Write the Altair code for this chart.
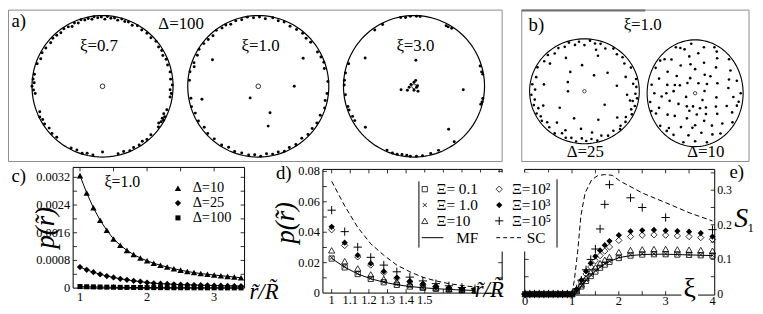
import altair as alt
import pandas as pd

SERIF = "'Liberation Serif', 'DejaVu Serif', 'Times New Roman', serif"

# ---------------- values ----------------
# a) Delta = 100 : particle positions as [angle in degrees, r/R]
a_xi07 = [[45,.97],[50,.98],[55,.97],[60,.99],[64,.96],[68,.98],[71,.97],[74,.99],[77,.96],[80,.98],[83,.97],[86,.99],[88,.95],[91,.98],[94,.97],[97,.99],[99,.96],[102,.98],[105,.97],[108,.99],[111,.96],[114,.98],[117,.95],[120,.97],[124,.98],[128,.96],[132,.97],[136,.98],[140,.96],
          [18,.97],[23,.98],[27,.96],[31,.98],[35,.97],[40,.99],
          [12,.98],[6,.97],[1,.99],[-3,.96],[-6,.98],[-9,.97],
          [-20,.97],[-24,.95],[-26,.98],[-28,.96],[-29,.99],[-31,.97],[-33,.95],[-36,.98],
          [-45,.97],[-50,.98],[-54,.96],[-58,.98],[-63,.97],[-67,.99],[-72,.97],[-77,.98],
          [-90,.93],[-98,.98],[-103,.97],[-107,.99],[-112,.97],[-117,.98],
          [-132,.97],[-137,.98],[-142,.96],[-147,.98],[-151,.97],[-154,.99],[-158,.96],
          [170,.98],[174,.99],[177,.97],[180,1.0],[183,.98],[186,.96],
          [146,.97],[151,.98],[156,.96],[161,.98]]
a_xi10 = [[40,.97],[45,.96],[50,.98],[56,.97],[62,.96],[68,.98],[73,.97],[78,.99],[84,.96],[89,.98],[94,.97],[99,.99],[104,.97],[109,.98],[114,.96],[118,.98],[122,.97],[127,.99],[132,.96],[137,.97],[142,.98],
          [30,.97],[25,.98],[20,.99],[15,.97],
          [4,.99],[-6,.98],[-12,.97],[-18,.99],
          [-25,.97],[-32,.98],[-38,.97],[-44,.98],[-50,.96],
          [-57,.98],[-63,.97],[-68,.99],[-73,.97],[-78,.98],[-83,.96],[-88,.99],[-93,.97],[-98,.98],[-104,.97],[-110,.98],[-116,.96],[-122,.98],
          [-130,.97],[-137,.98],[-143,.96],[-150,.98],[-157,.97],[-163,.99],
          [-170,.97],[175,.98],[168,.99],[160,.97],[163,.95],[153,.97],[148,.99],
          [150,.75],[32,.75],[0,.51],[-125,.2],[-66,.41],[-76,.58],[-167,.82]]
a_xi30 = [[101,.99],[93,.99],[85,.99],[88,.99],[97,.98],[117,.98],[125,.97],[62,.97],[57,.98],[60,.97],
          [161,.98],[169,.99],[179,.99],[175,.99],[-173,.98],[-163,.98],[-160,.98],[-154,.97],[-150,.97],
          [17,.98],[10,.99],[12,.98],[-13,.99],[-15,.98],[-10,.99],
          [-113,.98],[-108,.99],[-104,.99],[-100,.98],[-96,.98],[-93,.99],[-88,.99],[-83,.99],[-76,.98],[-69,.97],[-54,.97],
          [86,.37],[150,.8],[-4,.7],[-51,.78],[-140,.9],
          [-165,.19],[-170,.07],[150,.05],[90,.056],[-20,.04],[-90,.056],[-51,.09],[74,.087],[-149,.11],[10,.05]]
# b) xi = 1.0
b_d25 = [[5,.95],[9,.9],[14,.97],[-3,.93],[-8,.97],[-12,.9],[-17,.96],[-22,.92],[-27,.97],[-33,.9],[-38,.95],[-45,.93],
         [28,.96],[36,.9],[43,.95],[50,.92],[57,.97],[65,.9],[72,.95],[78,.93],[84,.97],[90,.88],[96,.95],[101,.9],[107,.97],[113,.92],[120,.95],[127,.9],[134,.96],[142,.93],
         [152,.97],[163,.92],[172,.96],[178,.9],[184,.97],[190,.92],[196,.96],[201,.9],[206,.97],[211,.93],[216,.96],[221,.9],[227,.94],
         [236,.97],[243,.9],[249,.95],[255,.92],[261,.97],[267,.9],[272,.95],[278,.92],[284,.97],[290,.9],[297,.95],[305,.92],[312,.97],
         [95,.5],[125,.45],[150,.35],[180,.3],[60,.35],[215,.55],[250,.55],[265,.72],[295,.6],[325,.45],[10,.6],[40,.55],[70,.72],[118,.72],
         [230,.78],[245,.82],[280,.8],[320,.78],[20,.8],[170,.75],[200,.8],[140,.82],[75,.82],[348,.85],[355,.78]]
b_d10 = [[0,.95],[8,.7],[15,.9],[22,.5],[30,.85],[35,.3],[42,.95],[48,.65],[55,.8],[60,.4],[65,.95],[72,.6],[78,.88],[85,.75],[90,.45],[95,.93],[100,.7],[105,.85],[110,.3],[115,.95],[120,.6],[128,.8],[135,.9],[140,.5],[145,.7],[150,.95],[155,.35],[160,.8],[165,.6],[170,.92],[175,.45],[180,.85],[185,.7],[190,.95],[195,.55],[200,.8],[205,.9],[210,.4],[215,.7],[220,.95],[225,.6],[230,.85],[235,.3],[240,.9],[245,.7],[250,.5],[255,.95],[260,.8],[265,.65],[270,.9],[275,.4],[280,.75],[285,.95],[290,.55],[295,.85],[300,.7],[305,.92],[310,.35],[315,.8],[320,.6],[325,.95],[330,.5],[335,.85],[340,.7],[345,.9],[350,.45],[355,.8],
         [12,.2],[70,.2],[130,.25],[200,.2],[260,.25],[320,.2],[100,.55],[250,.35],[180,.6],[45,.45],[290,.3],[160,.45],[20,.75],[110,.9],[230,.92],[350,.92],[60,.9],[140,.95],[200,.97],[270,.6],[300,.45]]

# c) xi = 1.0, p(r) against r/R
c_r = [1.0, 1.1, 1.2, 1.3, 1.4, 1.5, 1.6, 1.7, 1.8, 1.9, 2.0, 2.1, 2.2, 2.3, 2.4, 2.5, 2.6, 2.7, 2.8, 2.9, 3.0, 3.1, 3.2, 3.3, 3.4]
c_d10 = [0.00325, 0.00275, 0.00232, 0.00196, 0.00167, 0.00142, 0.00124, 0.00109, 0.00097, 0.00087, 0.00079, 0.00072, 0.00066, 0.00061, 0.00056, 0.00052, 0.00048, 0.00045, 0.00042, 0.00040, 0.00038, 0.00036, 0.00034, 0.00032, 0.00030]
c_d25 = [0.00061, 0.00053, 0.00046, 0.00040, 0.00035, 0.00031, 0.00027, 0.00024, 0.00021, 0.00019, 0.00016, 0.00014, 0.00013, 0.00012, 0.00011, 0.00010, 0.000095, 0.00009, 0.000085, 0.00008, 0.000075, 0.00007, 0.000065, 0.00006, 0.000058]
c_d100 = [0.000045, 0.00004, 0.000036, 0.000032, 0.000029, 0.000026, 0.000023, 0.000021, 0.000019, 0.000017, 0.000016, 0.000015, 0.000014, 0.000013, 0.000012, 0.000011, 0.000011, 0.00001, 0.00001, 0.000009, 0.000009, 0.000008, 0.000008, 0.000008, 0.000007]
c_yt = [0, 0.0008, 0.0016, 0.0024, 0.0032]
c_yl = ["0", "0.0008", "0.0016", "0.0024", "0.0032"]
c_xt = [1, 2, 3]
c_xl = ["1", "2", "3"]

# d) p(r) against r/R for several Xi
d_r = [1.0, 1.07, 1.14, 1.21, 1.28, 1.35, 1.42, 1.49, 1.56, 1.63, 1.70, 1.77, 1.84]
d_xi01 = [0.0227, 0.0169, 0.0125, 0.0093, 0.0071, 0.0054, 0.0043, 0.0034, 0.0028, 0.0023, 0.0019, 0.0017, 0.0015]
d_xi1 = [0.0232, 0.0174, 0.0128, 0.0096, 0.0073, 0.0056, 0.0044, 0.0035, 0.0029, 0.0024, 0.0020, 0.0017, 0.0015]
d_xi10 = [0.0281, 0.0210, 0.0162, 0.0123, 0.0093, 0.0075, 0.0058, 0.0043, 0.0036, 0.0028, 0.0023, 0.0019, 0.0016]
d_xi1e2 = [0.0416, 0.0313, 0.0238, 0.0184, 0.0135, 0.0097, 0.0075, 0.0058, 0.0043, 0.0032, 0.0026, 0.0021, 0.0017]
d_xi1e3 = [0.0436, 0.0331, 0.0249, 0.0195, 0.0142, 0.0102, 0.0078, 0.0060, 0.0045, 0.0034, 0.0027, 0.0022, 0.0018]
d_xi1e5 = [0.0545, 0.0404, 0.0302, 0.0235, 0.0184, 0.0140, 0.0105, 0.0080, 0.0062, 0.0048, 0.0037, 0.0029, 0.0023]
d_mf_r = [1.0, 1.07, 1.14, 1.21, 1.28, 1.35, 1.42, 1.49, 1.56, 1.63, 1.70, 1.77, 1.84, 1.91]
d_mf = [0.0228, 0.0170, 0.0126, 0.0094, 0.0072, 0.0055, 0.0043, 0.0035, 0.0029, 0.0024, 0.0020, 0.0017, 0.0015, 0.0013]
d_sc_r = [1.0, 1.07, 1.14, 1.21, 1.28, 1.35, 1.42, 1.49, 1.56, 1.63, 1.70, 1.77, 1.84, 1.91]
d_sc = [0.0735, 0.0573, 0.0432, 0.0324, 0.0249, 0.0184, 0.0140, 0.0104, 0.0080, 0.0062, 0.0050, 0.0040, 0.0033, 0.0028]
d_yt = [0, 0.02, 0.04, 0.06, 0.08]
d_yl = ["0", "0.02", "0.04", "0.06", "0.08"]
d_xt = [1.0, 1.1, 1.2, 1.3, 1.4, 1.5]
d_xl = ["1", "1.1", "1.2", "1.3", "1.4", "1.5"]

# e) S1 against xi
e_xi = [0, 0.1, 0.2, 0.3, 0.4, 0.5, 0.6, 0.7, 0.8, 0.9, 1.0, 1.1, 1.2, 1.3, 1.4, 1.5, 1.6, 1.7, 1.8, 2.0, 2.25, 2.5, 2.75, 3.0, 3.25, 3.5, 3.75, 4.0]
e_xi01 = [0, 0, 0, 0, 0, 0, 0, 0, 0, 0, 0, 0.008, 0.022, 0.038, 0.052, 0.065, 0.076, 0.085, 0.093, 0.104, 0.111, 0.114, 0.115, 0.115, 0.114, 0.113, 0.112, 0.111]
e_xi1 = [0, 0, 0, 0, 0, 0, 0, 0, 0, 0, 0, 0.009, 0.024, 0.040, 0.055, 0.068, 0.079, 0.088, 0.095, 0.106, 0.113, 0.116, 0.116, 0.116, 0.115, 0.114, 0.113, 0.112]
e_xi10 = [0, 0, 0, 0, 0, 0, 0, 0, 0, 0, 0, 0.010, 0.028, 0.047, 0.063, 0.077, 0.089, 0.099, 0.107, 0.121, 0.127, 0.129, 0.130, 0.130, 0.129, 0.128, 0.127, 0.125]
e_xi1e2 = [0, 0, 0, 0, 0, 0, 0, 0, 0, 0, 0, 0.012, 0.035, 0.058, 0.078, 0.096, 0.111, 0.124, 0.136, 0.155, 0.166, 0.170, 0.171, 0.170, 0.168, 0.166, 0.163, 0.158]
e_xi1e3 = [0, 0, 0, 0, 0, 0, 0, 0, 0, 0, 0, 0.014, 0.040, 0.066, 0.089, 0.109, 0.126, 0.141, 0.153, 0.170, 0.181, 0.184, 0.185, 0.183, 0.182, 0.180, 0.176, 0.166]
e_p_xi = [0, 0.1, 0.2, 0.3, 0.4, 0.5, 0.6, 0.7, 0.8, 0.9, 1.0, 1.1, 1.2, 1.3, 1.4, 1.5, 1.6, 1.7, 1.8, 2.25, 2.5, 3.0, 4.0]
e_xi1e5 = [0, 0, 0, 0, 0, 0, 0, 0, 0, 0, 0, 0.015, 0.040, 0.070, 0.100, 0.130, 0.188, 0.259, 0.316, 0.278, 0.250, 0.221, 0.186]
e_mf_xi = [0, 1.0, 1.1, 1.2, 1.3, 1.4, 1.5, 1.6, 1.7, 1.8, 2.0, 2.25, 2.5, 2.75, 3.0, 3.25, 3.5, 3.75, 4.0]
e_mf = [0, 0, 0.008, 0.022, 0.038, 0.053, 0.066, 0.077, 0.087, 0.094, 0.105, 0.111, 0.114, 0.115, 0.115, 0.114, 0.113, 0.112, 0.111]
e_sc_xi = [0, 1.0, 1.05, 1.12, 1.19, 1.28, 1.42, 1.55, 1.69, 1.86, 2.03, 2.5, 3.0, 3.5, 4.0]
e_sc = [0, 0, 0.04, 0.121, 0.226, 0.292, 0.33, 0.342, 0.345, 0.343, 0.326, 0.292, 0.264, 0.235, 0.211]
e_yt = [0, 0.1, 0.2, 0.3]
e_yl = ["0", "0.1", "0.2", "0.3"]
e_xt = [0, 1, 2, 3, 4]
e_xl = ["0", "1", "2", "3", "4"]

# ---------------- layout (reference pixel frame) ----------------
W, H = 755, 306


def gx(x):
    return (x - 2) * 0.99 + 0.5


def gy(y):
    return y - 1.5


# panel a: three disks, centres 98/257/416, y 79, radius 72 x 71.5
A_C, A_DX, A_RX, A_CY, A_RY = 98, 159, 72, 79, 71.5
PA = dict(x0=2, x1=506, y0=2, y1=155)
PA["xd"] = [(PA["x0"] - A_C) / A_RX, (PA["x1"] - A_C) / A_RX]
PA["yd"] = [(A_CY - PA["y1"]) / A_RY, (A_CY - PA["y0"]) / A_RY]
A_OFF = A_DX / A_RX
# panel b: two ellipses
B1 = dict(cx=590, cy=84, rx=56, ry=53)
B2 = dict(cx=703, cy=86, rx=49, ry=54)
PB = dict(x0=526, x1=758, y0=2, y1=155)
PB["xd"] = [(PB["x0"] - B1["cx"]) / B1["rx"], (PB["x1"] - B1["cx"]) / B1["rx"]]
PB["yd"] = [(B1["cy"] - PB["y1"]) / B1["ry"], (B1["cy"] - PB["y0"]) / B1["ry"]]
B_OX = (B2["cx"] - B1["cx"]) / B1["rx"]
B_OY = (B1["cy"] - B2["cy"]) / B1["ry"]
B_FX = B2["rx"] / B1["rx"]
B_FY = B2["ry"] / B1["ry"]

PC = dict(x0=68, x1=243, y0=161, y1=283, xd=[0.898, 3.453], yd=[0, 0.003486])
PD = dict(x0=323, x1=506, y0=163, y1=288, xd=[0.953, 1.916], yd=[0, 0.0813])
PE = dict(x0=529, x1=723, y0=163, y1=290, xd=[-0.01, 4.048], yd=[-0.003, 0.36])

DUMMY = pd.DataFrame({"k": [0]})


def SX(P):
    return alt.Scale(domain=P["xd"], range=[gx(P["x0"]), gx(P["x1"])], nice=False, zero=False)


def SY(P):
    return alt.Scale(domain=P["yd"], range=[gy(P["y1"]), gy(P["y0"])], nice=False, zero=False)


def XY(P, xf="x", yf="y"):
    return dict(x=alt.X(f"{xf}:Q", scale=SX(P), axis=None), y=alt.Y(f"{yf}:Q", scale=SY(P), axis=None))


def pts(P, xs, ys, shape, filled, size, sw=0.8):
    df = pd.DataFrame({"x": xs, "y": ys})
    return alt.Chart(df).mark_point(shape=shape, filled=filled, size=size, color="black",
                                    strokeWidth=sw, opacity=1).encode(**XY(P))


def line(P, xs, ys, dash=None, sw=1):
    df = pd.DataFrame({"x": xs, "y": ys})
    kw = dict(color="black", strokeWidth=sw)
    if dash:
        kw["strokeDash"] = dash
    return alt.Chart(df).mark_line(**kw).encode(**XY(P))


def frame(x0, y0, x1, y1, color="black", sw=1):
    return alt.Chart(DUMMY).mark_rect(fill="transparent", stroke=color, strokeWidth=sw).encode(
        x=alt.value(gx(x0)), x2=alt.value(gx(x1)), y=alt.value(gy(y0)), y2=alt.value(gy(y1)))


def white(x0, y0, x1, y1):
    return alt.Chart(DUMMY).mark_rect(fill="white").encode(
        x=alt.value(gx(x0)), x2=alt.value(gx(x1)), y=alt.value(gy(y0)), y2=alt.value(gy(y1)))


def hrule(x0, x1, y, dash=None, sw=1, color="black"):
    kw = dict(color=color, strokeWidth=sw)
    if dash:
        kw["strokeDash"] = dash
    return alt.Chart(DUMMY).mark_rule(**kw).encode(x=alt.value(gx(x0)), x2=alt.value(gx(x1)), y=alt.value(gy(y)))


def vrule(x, y0, y1, sw=1, color="black"):
    return alt.Chart(DUMMY).mark_rule(color=color, strokeWidth=sw).encode(
        x=alt.value(gx(x)), y=alt.value(gy(y0)), y2=alt.value(gy(y1)))


def xticks(P, vals, side, ln=4):
    df = pd.DataFrame({"x": vals})
    y = gy(P["y1"]) if side == "bottom" else gy(P["y0"])
    y2 = y - ln if side == "bottom" else y + ln
    return alt.Chart(df).mark_rule(color="black", strokeWidth=0.8).encode(
        x=alt.X("x:Q", scale=SX(P), axis=None), y=alt.value(y), y2=alt.value(y2))


def yticks(P, vals, side, ln=4):
    df = pd.DataFrame({"y": vals})
    x = gx(P["x0"]) if side == "left" else gx(P["x1"])
    x2 = x + ln if side == "left" else x - ln
    return alt.Chart(df).mark_rule(color="black", strokeWidth=0.8).encode(
        y=alt.Y("y:Q", scale=SY(P), axis=None), x=alt.value(x), x2=alt.value(x2))


def xlabels(P, vals, labs, yref, size=12.5):
    df = pd.DataFrame({"x": vals, "t": labs})
    return alt.Chart(df).mark_text(font=SERIF, fontSize=size, baseline="middle", align="center",
                                   color="black").encode(x=alt.X("x:Q", scale=SX(P), axis=None),
                                                         y=alt.value(gy(yref)), text="t:N")


def ylabels(P, vals, labs, xref, align="right", size=12.5):
    df = pd.DataFrame({"y": vals, "t": labs})
    return alt.Chart(df).mark_text(font=SERIF, fontSize=size, baseline="middle", align=align,
                                   color="black").encode(y=alt.Y("y:Q", scale=SY(P), axis=None),
                                                         x=alt.value(gx(xref)), text="t:N")


def note(x, y, s, size=16, align="left", style="normal", angle=0):
    return alt.Chart(DUMMY).mark_text(text=s, font=SERIF, fontSize=size, align=align, baseline="middle",
                                      fontStyle=style, angle=angle, color="black").encode(
        x=alt.value(gx(x)), y=alt.value(gy(y)))


def key(x, y, shape, filled, size, sw=0.8):
    return alt.Chart(DUMMY).mark_point(shape=shape, filled=filled, size=size, color="black",
                                       strokeWidth=sw, opacity=1).encode(x=alt.value(gx(x)), y=alt.value(gy(y)))


def disk_df(groups):
    rows = []
    for k, g in enumerate(groups):
        for t, r in g:
            rows.append({"t": t, "r": r, "k": k})
    return pd.DataFrame(rows)


CROSS = "M-1,-1L1,1M-1,1L1,-1"
PLUS = "M-1,0L1,0M0,-1L0,1"

layers = []

# ---------------- panel a ----------------
layers.append(frame(PA["x0"], PA["y0"], PA["x1"], PA["y1"], color="#8c8c8c"))
for k in range(3):
    layers.append(
        alt.Chart(alt.sequence(0, 363, 3, as_="t"))
        .transform_calculate(x=f"cos(datum.t*PI/180)+{k * A_OFF}", y="sin(datum.t*PI/180)")
        .mark_line(color="black", strokeWidth=1.2)
        .encode(order="t:Q", **XY(PA)))
a_calc = dict(x=f"datum.r*cos(datum.t*PI/180)+datum.k*{A_OFF}", y="datum.r*sin(datum.t*PI/180)")
layers.append(alt.Chart(disk_df([a_xi07, a_xi10, a_xi30])).transform_calculate(**a_calc)
              .mark_circle(size=9, color="black", opacity=1).encode(**XY(PA)))
layers.append(alt.Chart(disk_df([[[0, 0]], [[0, 0]], [[0, 0]]])).transform_calculate(**a_calc)
              .mark_point(shape="circle", filled=False, size=22, color="black", strokeWidth=0.8, opacity=1)
              .encode(**XY(PA)))
layers += [note(5, 13, "a)", 19), note(155, 16.5, "Δ=100", 17), note(75, 38, "ξ=0.7", 17),
           note(240, 38, "ξ=1.0", 17), note(398, 38, "ξ=3.0", 17)]

# ---------------- panel b ----------------
layers.append(frame(PB["x0"], PB["y0"], PB["x1"], PB["y1"], color="#8c8c8c"))
layers.append(hrule(526, 652, 2.5, sw=2, color="#6e6e6e"))
for fx, fy, ox, oy in [(1, 1, 0, 0), (B_FX, B_FY, B_OX, B_OY)]:
    layers.append(
        alt.Chart(alt.sequence(0, 363, 3, as_="t"))
        .transform_calculate(x=f"{fx}*cos(datum.t*PI/180)+{ox}", y=f"{fy}*sin(datum.t*PI/180)+{oy}")
        .mark_line(color="black", strokeWidth=1.1)
        .encode(order="t:Q", **XY(PB)))
b_calc = dict(
    x=f"datum.k==0 ? datum.r*cos(datum.t*PI/180) : {B_FX}*datum.r*cos(datum.t*PI/180)+{B_OX}",
    y=f"datum.k==0 ? datum.r*sin(datum.t*PI/180) : {B_FY}*datum.r*sin(datum.t*PI/180)+{B_OY}")
layers.append(alt.Chart(disk_df([b_d25, b_d10])).transform_calculate(**b_calc)
              .mark_circle(size=7, color="black", opacity=1).encode(**XY(PB)))
layers.append(alt.Chart(disk_df([[[0, 0]], [[0, 0]]])).transform_calculate(**b_calc)
              .mark_point(shape="circle", filled=False, size=12, color="black", strokeWidth=0.7, opacity=1)
              .encode(**XY(PB)))
layers += [note(533, 17, "b)", 19), note(630, 17, "ξ=1.0", 17), note(572, 145, "Δ=25", 17),
           note(695, 145, "Δ=10", 17)]

# ---------------- panel c ----------------
layers.append(frame(PC["x0"], PC["y0"], PC["x1"], PC["y1"]))
layers += [xticks(PC, [1, 1.5, 2, 2.5, 3], "bottom"), xticks(PC, [1, 1.5, 2, 2.5, 3], "top"),
           yticks(PC, [0.0004, 0.0008, 0.0012, 0.0016, 0.002, 0.0024, 0.0028, 0.0032], "left"),
           yticks(PC, [0.0004, 0.0008, 0.0012, 0.0016, 0.002, 0.0024, 0.0028, 0.0032], "right")]
for ys, shp, sz in [(c_d10, "triangle-up", 42), (c_d25, "diamond", 40), (c_d100, "square", 26)]:
    layers.append(line(PC, c_r, ys))
    layers.append(pts(PC, c_r, ys, shp, True, sz))
layers += [ylabels(PC, c_yt, c_yl, 65), xlabels(PC, c_xt, c_xl, 292)]
layers += [note(5, 170, "c)", 19), note(100, 176, "ξ=1.0", 16),
           key(175, 182, "triangle-up", True, 42), note(190, 182, "Δ=10", 14.5),
           key(175, 197, "diamond", True, 40), note(190, 197, "Δ=25", 14.5),
           key(175, 212, "square", True, 26), note(190, 212, "Δ=100", 14.5),
           note(40, 222, "p(r\u0303)", 27, align="center", style="italic", angle=270),
           note(248, 287, "r\u0303/R\u0303", 23, style="italic")]

# ---------------- panel d ----------------
layers.append(frame(PD["x0"], PD["y0"], PD["x1"], PD["y1"]))
dxt = [1.0, 1.1, 1.2, 1.3, 1.4, 1.5, 1.6, 1.7, 1.8, 1.9]
dyt = [0.01, 0.02, 0.03, 0.04, 0.05, 0.06, 0.07, 0.08]
layers += [xticks(PD, dxt, "bottom"), xticks(PD, dxt, "top"), yticks(PD, dyt, "left"), yticks(PD, dyt, "right")]
layers.append(line(PD, d_sc_r, d_sc, dash=[5, 3]))
layers.append(line(PD, d_mf_r, d_mf))
layers += [pts(PD, d_r, d_xi01, "square", False, 28), pts(PD, d_r, d_xi1, CROSS, False, 16),
           pts(PD, d_r, d_xi10, "triangle-up", False, 40), pts(PD, d_r, d_xi1e2, "diamond", False, 40),
           pts(PD, d_r, d_xi1e3, "diamond", True, 40), pts(PD, d_r, d_xi1e5, PLUS, False, 70, 1)]
layers += [ylabels(PD, d_yt, d_yl, 320), xlabels(PD, d_xt, d_xl, 295)]
layers += [note(275, 167, "d)", 19),
           note(285, 217, "p(r\u0303)", 27, align="center", style="italic", angle=270),
           white(479, 275, 508, 287.5),
           note(478, 285, "r\u0303/R\u0303", 23, style="italic")]

# ---------------- panel e ----------------
layers.append(frame(PE["x0"], PE["y0"], PE["x1"], PE["y1"]))
ext = [0.5, 1, 1.5, 2, 2.5, 3, 3.5]
eyt = [0.05, 0.1, 0.15, 0.2, 0.25, 0.3, 0.35]
layers += [xticks(PE, ext, "bottom"), xticks(PE, ext, "top"), yticks(PE, eyt, "left"), yticks(PE, eyt, "right")]
layers.append(line(PE, e_sc_xi, e_sc, dash=[5, 3]))
layers.append(line(PE, e_mf_xi, e_mf))
layers += [pts(PE, e_xi, e_xi01, "square", False, 28), pts(PE, e_xi, e_xi1, CROSS, False, 16),
           pts(PE, e_xi, e_xi10, "triangle-up", False, 40), pts(PE, e_xi, e_xi1e2, "diamond", False, 40),
           pts(PE, e_xi, e_xi1e3, "diamond", True, 40), pts(PE, e_p_xi, e_xi1e5, PLUS, False, 70, 1)]
layers += [ylabels(PE, e_yt, e_yl, 725.5, align="left", size=12), xlabels(PE, e_xt, e_xl, 296)]
layers += [note(738, 166, "e)", 19), note(743, 213, "S", 28, style="italic"), note(756.5, 222, "1", 13),
           white(689, 276, 706, 296), note(697.5, 284, "ξ", 28, align="center")]

# shared legend of d) and e)
layers += [white(421, 166, 562, 246), vrule(421, 175, 242), vrule(562, 173, 242)]
layers += [key(427, 183, "square", False, 28), note(439, 183, "Ξ= 0.1", 15.5),
           key(427, 199, CROSS, False, 16), note(439, 199, "Ξ= 1.0", 15.5),
           key(427, 215, "triangle-up", False, 40), note(439, 215, "Ξ=10", 15.5),
           hrule(424, 446, 232), note(459, 232, "MF", 15.5),
           key(503, 183, "diamond", False, 40), note(516, 183, "Ξ=10²", 15.5),
           key(503, 199, "diamond", True, 40), note(516, 199, "Ξ=10³", 15.5),
           key(503, 215, PLUS, False, 70, 1), note(516, 215, "Ξ=10⁵", 15.5),
           hrule(500, 526, 232, dash=[4, 3]), note(531, 232, "SC", 15.5)]

chart = (alt.layer(*layers)
         .resolve_scale(x="independent", y="independent")
         .properties(width=W, height=H, padding=0, autosize=alt.AutoSizeParams(type="none"))
         .configure_view(stroke=None))

chart.save("out.html", embed_options={"renderer": "svg", "actions": False})
